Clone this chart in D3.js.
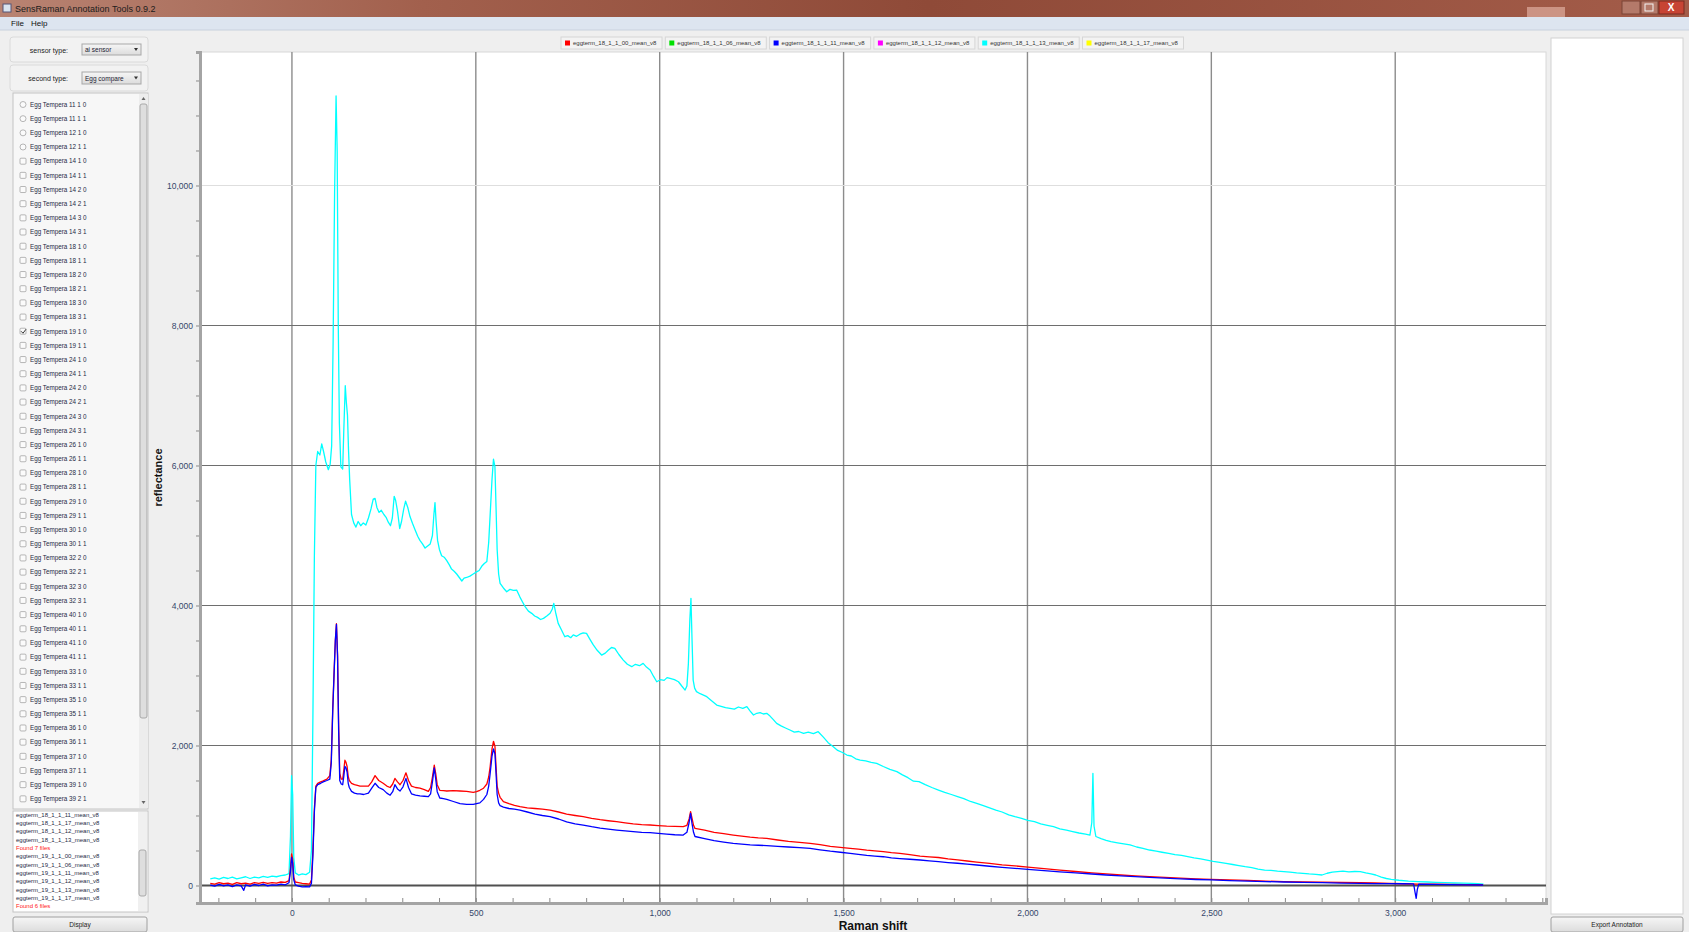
<!DOCTYPE html>
<html>
<head>
<meta charset="utf-8">
<script src="https://cdn.jsdelivr.net/npm/d3@7"></script>
<style>
  body { margin: 0; background: #efefef; overflow: hidden; }
  svg { display: block; font-family: "Liberation Sans", Arial, sans-serif; }
</style>
</head>
<body>
<svg id="app"></svg>
<script>
// ---- data ----
const seriesNames = ["eggterm_18_1_1_00_mean_v8", "eggterm_18_1_1_06_mean_v8", "eggterm_18_1_1_11_mean_v8",
  "eggterm_18_1_1_12_mean_v8", "eggterm_18_1_1_13_mean_v8", "eggterm_18_1_1_17_mean_v8"];
const seriesColors = ["#ff0000", "#00e000", "#0000ff", "#ff00ff", "#00ffff", "#ffff00"];

const xMajorTicks = [0, 500, 1000, 1500, 2000, 2500, 3000];
const yMajorTicks = [0, 2000, 4000, 6000, 8000, 10000];

// [raman shift, reflectance]
const cyanSpectrum = [[-222,95],[-210,110],[-198,90],[-186,115],[-174,100],[-162,120],[-150,95],[-138,110],[-126,125],[-114,100],[-102,120],[-90,110],[-78,130],[-66,115],[-54,135],[-42,125],[-30,140],[-18,150],[-8,170],[-4,700],[-1,1570],[2,1300],[5,400],[9,180],[18,150],[28,165],[38,155],[48,190],[53,500],[57,2400],[61,4700],[65,6000],[70,6200],[76,6150],[81,6310],[86,6200],[92,6050],[99,5940],[104,6020],[108,6280],[112,7770],[116,9900],[120,11280],[123,10500],[126,8000],[129,6600],[133,5980],[138,5950],[141,6500],[145,7140],[148,6900],[151,6720],[154,6200],[157,5800],[162,5300],[168,5180],[174,5120],[180,5200],[187,5140],[194,5180],[201,5150],[208,5250],[215,5380],[221,5520],[226,5530],[231,5400],[237,5330],[243,5360],[250,5300],[256,5260],[262,5190],[268,5140],[273,5250],[278,5560],[282,5500],[287,5350],[293,5100],[298,5200],[304,5380],[309,5490],[315,5400],[321,5270],[328,5170],[335,5080],[342,4990],[348,4930],[355,4880],[362,4820],[369,4850],[376,4880],[382,5000],[386,5300],[389,5470],[392,5200],[396,4930],[401,4800],[407,4710],[414,4690],[421,4640],[428,4580],[434,4520],[441,4490],[448,4450],[455,4400],[462,4350],[468,4390],[475,4400],[484,4420],[493,4450],[502,4480],[509,4500],[516,4560],[523,4600],[530,4630],[535,4900],[539,5300],[544,5800],[548,6090],[552,5980],[555,5400],[558,4800],[562,4450],[566,4316],[575,4250],[584,4197],[593,4230],[602,4215],[611,4221],[620,4120],[627,4050],[634,3983],[643,3920],[652,3888],[660,3850],[668,3830],[676,3800],[684,3816],[693,3850],[702,3890],[708,3950],[712,4031],[717,3900],[724,3745],[733,3650],[742,3554],[750,3570],[758,3540],[765,3580],[774,3560],[783,3590],[792,3610],[801,3602],[810,3520],[819,3440],[830,3360],[842,3292],[852,3320],[860,3360],[869,3400],[878,3388],[889,3300],[901,3220],[912,3160],[924,3126],[934,3160],[945,3140],[955,3173],[964,3120],[974,3078],[983,2990],[992,2911],[1002,2940],[1012,2930],[1020,2970],[1028,2959],[1040,2940],[1051,2911],[1060,2850],[1069,2792],[1074,2850],[1078,3170],[1082,3800],[1085,4102],[1088,3500],[1091,2935],[1095,2820],[1100,2769],[1110,2740],[1119,2720],[1128,2697],[1141,2640],[1155,2578],[1167,2560],[1179,2540],[1191,2530],[1203,2520],[1214,2550],[1226,2530],[1237,2554],[1246,2490],[1255,2435],[1264,2460],[1273,2470],[1282,2450],[1291,2459],[1300,2420],[1309,2370],[1318,2316],[1330,2280],[1342,2250],[1354,2221],[1366,2190],[1378,2200],[1391,2173],[1404,2190],[1418,2170],[1431,2197],[1445,2120],[1458,2040],[1472,1983],[1484,1930],[1497,1900],[1509,1864],[1521,1850],[1533,1810],[1545,1792],[1560,1780],[1575,1760],[1590,1745],[1608,1700],[1626,1660],[1645,1626],[1660,1580],[1675,1540],[1690,1490],[1705,1483],[1722,1440],[1740,1400],[1758,1364],[1775,1330],[1793,1300],[1810,1269],[1827,1240],[1845,1200],[1862,1174],[1880,1140],[1897,1110],[1914,1078],[1931,1050],[1949,1010],[1966,983],[1984,960],[2001,930],[2019,912],[2036,880],[2054,860],[2071,840],[2088,810],[2106,790],[2123,769],[2140,750],[2158,735],[2170,721],[2175,900],[2178,1602],[2181,850],[2186,700],[2200,670],[2214,645],[2227,626],[2245,610],[2262,595],[2279,579],[2297,550],[2314,530],[2332,507],[2350,490],[2366,475],[2384,460],[2401,440],[2419,430],[2436,412],[2453,395],[2471,380],[2488,364],[2505,345],[2523,330],[2540,317],[2558,300],[2575,285],[2592,269],[2610,255],[2627,235],[2645,221],[2662,215],[2680,205],[2697,198],[2714,190],[2732,180],[2749,174],[2766,165],[2784,160],[2801,150],[2815,175],[2829,190],[2843,198],[2858,205],[2874,195],[2890,200],[2905,198],[2920,180],[2934,165],[2947,150],[2962,120],[2976,100],[2989,88],[3010,75],[3036,62],[3062,55],[3088,50],[3111,45],[3135,40],[3160,36],[3185,33],[3208,31],[3225,25],[3240,21]];

const redSpectrum = [[-222,30],[-210,20],[-198,40],[-186,25],[-174,35],[-162,15],[-150,40],[-138,25],[-126,35],[-114,20],[-102,40],[-90,30],[-78,45],[-66,30],[-54,40],[-42,35],[-30,50],[-18,45],[-8,70],[-4,250],[-1,450],[2,380],[5,120],[9,50],[18,40],[28,30],[38,25],[48,20],[53,80],[57,500],[61,1100],[65,1420],[70,1460],[78,1480],[85,1495],[95,1520],[103,1570],[107,1800],[111,2540],[115,3100],[118,3500],[121,3740],[124,3300],[127,2300],[130,1600],[134,1520],[138,1520],[141,1650],[144,1790],[147,1760],[150,1700],[153,1560],[156,1500],[162,1460],[170,1440],[178,1430],[185,1420],[195,1420],[208,1420],[217,1480],[226,1570],[236,1500],[248,1460],[258,1420],[267,1400],[274,1450],[280,1530],[287,1480],[294,1440],[302,1500],[310,1610],[317,1500],[325,1420],[336,1400],[348,1390],[360,1370],[371,1345],[377,1400],[382,1550],[387,1720],[391,1600],[395,1440],[402,1360],[412,1355],[421,1350],[439,1355],[457,1350],[475,1345],[493,1330],[502,1340],[511,1360],[521,1390],[530,1450],[535,1550],[539,1700],[544,1950],[548,2060],[552,1990],[555,1700],[558,1420],[562,1320],[566,1260],[575,1197],[590,1170],[605,1145],[620,1126],[640,1110],[661,1100],[681,1090],[702,1078],[725,1050],[747,1020],[770,1000],[792,983],[815,960],[838,940],[860,925],[883,911],[906,895],[928,880],[951,870],[974,864],[996,855],[1019,848],[1041,845],[1064,840],[1074,860],[1080,950],[1084,1054],[1088,960],[1092,860],[1096,816],[1122,790],[1148,760],[1174,740],[1200,721],[1223,705],[1246,690],[1268,680],[1291,674],[1321,650],[1350,630],[1380,615],[1409,602],[1436,585],[1464,560],[1491,545],[1518,530],[1540,520],[1563,505],[1585,495],[1608,483],[1630,470],[1653,460],[1680,440],[1708,420],[1733,410],[1758,400],[1784,380],[1810,365],[1836,350],[1862,335],[1897,315],[1931,295],[1966,280],[2001,262],[2045,240],[2088,220],[2131,200],[2175,180],[2214,165],[2254,150],[2293,138],[2332,126],[2374,115],[2416,105],[2458,95],[2500,88],[2549,80],[2599,72],[2648,63],[2697,55],[2749,52],[2801,48],[2853,44],[2905,40],[2944,36],[2984,30],[3023,25],[3062,21],[3106,18],[3150,15],[3195,13],[3239,12]];

const blueSpectrum = [[-222,5],[-210,-10],[-198,15],[-186,-5],[-174,10],[-162,-15],[-150,10],[-138,-5],[-131,-70],[-126,10],[-114,-10],[-102,15],[-90,0],[-78,20],[-66,-5],[-54,10],[-42,5],[-30,20],[-18,10],[-8,40],[-4,200],[-1,400],[2,320],[5,80],[9,10],[18,-10],[28,-20],[38,-15],[48,-20],[53,30],[57,420],[61,1050],[65,1400],[70,1440],[78,1460],[85,1480],[95,1500],[103,1520],[107,1750],[111,2500],[115,3080],[118,3500],[121,3730],[124,3280],[127,2200],[130,1500],[134,1450],[138,1440],[141,1560],[144,1700],[147,1680],[150,1620],[153,1460],[156,1400],[162,1345],[170,1320],[178,1310],[185,1310],[195,1300],[208,1320],[217,1390],[226,1460],[236,1400],[248,1370],[258,1320],[267,1290],[274,1340],[280,1440],[287,1380],[294,1350],[302,1410],[310,1530],[317,1400],[325,1310],[336,1290],[348,1280],[360,1275],[371,1270],[377,1310],[382,1480],[387,1680],[391,1520],[395,1340],[402,1250],[412,1240],[421,1230],[439,1200],[457,1170],[475,1160],[493,1160],[502,1170],[511,1180],[521,1230],[530,1300],[535,1420],[539,1600],[544,1850],[548,1950],[552,1880],[555,1600],[558,1300],[562,1180],[566,1140],[575,1120],[590,1100],[605,1090],[620,1078],[640,1050],[661,1020],[681,1000],[702,983],[725,950],[747,910],[770,880],[792,864],[815,840],[838,820],[860,805],[883,792],[906,780],[928,770],[951,760],[974,754],[996,745],[1019,735],[1041,725],[1064,721],[1074,760],[1080,900],[1084,1030],[1088,880],[1092,760],[1096,700],[1122,670],[1148,640],[1174,620],[1200,602],[1223,590],[1246,580],[1268,575],[1291,570],[1321,560],[1350,550],[1380,540],[1409,530],[1436,510],[1464,490],[1491,475],[1518,460],[1540,445],[1563,430],[1585,420],[1608,411],[1630,395],[1653,385],[1680,375],[1708,364],[1733,352],[1758,340],[1784,328],[1810,318],[1836,305],[1862,293],[1897,275],[1931,260],[1966,245],[2001,231],[2045,212],[2088,195],[2131,180],[2175,164],[2214,150],[2254,138],[2293,127],[2332,117],[2374,105],[2416,95],[2458,86],[2500,79],[2549,70],[2599,63],[2648,56],[2697,50],[2749,45],[2801,40],[2853,35],[2905,31],[2944,28],[2984,26],[3023,25],[3050,24],[3054,-100],[3057,-183],[3060,-60],[3064,20],[3106,15],[3150,12],[3195,9],[3239,7]];

const listItems = ["Egg Tempera 11 1 0","Egg Tempera 11 1 1","Egg Tempera 12 1 0","Egg Tempera 12 1 1","Egg Tempera 14 1 0","Egg Tempera 14 1 1","Egg Tempera 14 2 0","Egg Tempera 14 2 1","Egg Tempera 14 3 0","Egg Tempera 14 3 1","Egg Tempera 18 1 0","Egg Tempera 18 1 1","Egg Tempera 18 2 0","Egg Tempera 18 2 1","Egg Tempera 18 3 0","Egg Tempera 18 3 1","Egg Tempera 19 1 0","Egg Tempera 19 1 1","Egg Tempera 24 1 0","Egg Tempera 24 1 1","Egg Tempera 24 2 0","Egg Tempera 24 2 1","Egg Tempera 24 3 0","Egg Tempera 24 3 1","Egg Tempera 26 1 0","Egg Tempera 26 1 1","Egg Tempera 28 1 0","Egg Tempera 28 1 1","Egg Tempera 29 1 0","Egg Tempera 29 1 1","Egg Tempera 30 1 0","Egg Tempera 30 1 1","Egg Tempera 32 2 0","Egg Tempera 32 2 1","Egg Tempera 32 3 0","Egg Tempera 32 3 1","Egg Tempera 40 1 0","Egg Tempera 40 1 1","Egg Tempera 41 1 0","Egg Tempera 41 1 1","Egg Tempera 33 1 0","Egg Tempera 33 1 1","Egg Tempera 35 1 0","Egg Tempera 35 1 1","Egg Tempera 36 1 0","Egg Tempera 36 1 1","Egg Tempera 37 1 0","Egg Tempera 37 1 1","Egg Tempera 39 1 0","Egg Tempera 39 2 1"];
const checkedItem = 16;

const logLines = ["eggterm_18_1_1_11_mean_v8","eggterm_18_1_1_17_mean_v8","eggterm_18_1_1_12_mean_v8","eggterm_18_1_1_13_mean_v8","Found 7 files",
  "eggterm_19_1_1_00_mean_v8","eggterm_19_1_1_06_mean_v8","eggterm_19_1_1_11_mean_v8","eggterm_19_1_1_12_mean_v8","eggterm_19_1_1_13_mean_v8","eggterm_19_1_1_17_mean_v8","Found 6 files"];

// ---- layout ----
const W = 1689, H = 932;
const plot = { left: 200, right: 1546, top: 52, bottom: 903 };

const svg = d3.select("#app").attr("width", W).attr("height", H);
const defs = svg.append("defs");

const tg = defs.append("linearGradient").attr("id", "titleGrad");
tg.append("stop").attr("offset", "0%").attr("stop-color", "#b88372");
tg.append("stop").attr("offset", "25%").attr("stop-color", "#a2604d");
tg.append("stop").attr("offset", "55%").attr("stop-color", "#8f4a38");
tg.append("stop").attr("offset", "100%").attr("stop-color", "#a35c49");

const bg = defs.append("linearGradient").attr("id", "btnGrad").attr("x2", 0).attr("y2", 1);
bg.append("stop").attr("offset", "0%").attr("stop-color", "#f6f6f6");
bg.append("stop").attr("offset", "100%").attr("stop-color", "#dcdcdc");

defs.append("clipPath").attr("id", "plotClip").append("rect")
  .attr("x", plot.left).attr("y", plot.top)
  .attr("width", plot.right - plot.left).attr("height", plot.bottom - plot.top);

svg.append("rect").attr("width", W).attr("height", H).attr("fill", "#efefef");

// title bar + menu
svg.append("rect").attr("width", W).attr("height", 17).attr("fill", "url(#titleGrad)");
svg.append("rect").attr("x", 3).attr("y", 4).attr("width", 8).attr("height", 8).attr("fill", "#d9e4ef").attr("stroke", "#557");
svg.append("text").attr("x", 15).attr("y", 12).attr("font-size", 9).attr("fill", "#1c1c1c")
  .text("SensRaman Annotation Tools 0.9.2");
svg.append("rect").attr("x", 1527).attr("y", 7).attr("width", 38).attr("height", 10).attr("fill", "#d7a393").attr("opacity", 0.8);
svg.append("rect").attr("x", 1622).attr("y", 1).attr("width", 18).attr("height", 13).attr("fill", "#b47a6a").attr("stroke", "#7a4436");
svg.append("rect").attr("x", 1641).attr("y", 1).attr("width", 17).attr("height", 13).attr("fill", "#b47a6a").attr("stroke", "#7a4436");
svg.append("rect").attr("x", 1645).attr("y", 4).attr("width", 8).attr("height", 7).attr("fill", "none").attr("stroke", "#f4f4f4");
svg.append("rect").attr("x", 1659).attr("y", 1).attr("width", 25).attr("height", 13).attr("fill", "#c74434").attr("stroke", "#7a2a20");
svg.append("text").attr("x", 1671).attr("y", 11).attr("text-anchor", "middle").attr("font-size", 10)
  .attr("font-weight", "bold").attr("fill", "#fff").text("X");

svg.append("rect").attr("y", 17).attr("width", W).attr("height", 13).attr("fill", "#dde5f0");
svg.append("line").attr("x1", 0).attr("x2", W).attr("y1", 30).attr("y2", 30).attr("stroke", "#c8d1de");
svg.append("text").attr("x", 11).attr("y", 26).attr("font-size", 8).attr("fill", "#111").text("File");
svg.append("text").attr("x", 31).attr("y", 26).attr("font-size", 8).attr("fill", "#111").text("Help");

// ---- left panel ----
const left = svg.append("g").attr("class", "left-panel");

function dropdown(g, y, h, label, value) {
  g.append("rect").attr("x", 10).attr("y", y - 7).attr("width", 138).attr("height", h + 14)
    .attr("rx", 3).attr("fill", "#f2f2f2").attr("stroke", "#dadada");
  g.append("text").attr("x", 68).attr("y", y + h / 2 + 3).attr("text-anchor", "end")
    .attr("font-size", 7).attr("fill", "#222").text(label);
  g.append("rect").attr("x", 82).attr("y", y).attr("width", 59).attr("height", h)
    .attr("fill", "url(#btnGrad)").attr("stroke", "#a8a8a8");
  g.append("text").attr("x", 85).attr("y", y + h / 2 + 2.5).attr("font-size", 6.5).attr("fill", "#223").text(value);
  g.append("path").attr("d", `M${134},${y + h / 2 - 1.5}l4,0l-2,3z`).attr("fill", "#333");
}
dropdown(left, 44, 11, "sensor type:", "ai sensor");
dropdown(left, 72, 12, "second type:", "Egg compare");

// list of samples
left.append("rect").attr("x", 13).attr("y", 93).attr("width", 135).attr("height", 716)
  .attr("fill", "#f7f7f7").attr("stroke", "#c4c4c4");
left.append("rect").attr("x", 139).attr("y", 94).attr("width", 9).attr("height", 714).attr("fill", "#ededed");
left.append("rect").attr("x", 140).attr("y", 104).attr("width", 7).attr("height", 614)
  .attr("rx", 2).attr("fill", "#dedede").attr("stroke", "#a9a9a9");
left.append("path").attr("d", "M141.5,100l2,-3l2,3z").attr("fill", "#666");
left.append("path").attr("d", "M141.5,801l2,3l2,-3z").attr("fill", "#666");

const items = left.selectAll("g.item").data(listItems).join("g").attr("class", "item")
  .attr("transform", (d, i) => `translate(0,${104.5 + i * 14.17})`);
items.append("rect").attr("x", 20).attr("y", -3).attr("width", 6).attr("height", 6)
  .attr("rx", (d, i) => i < 4 ? 3 : 1).attr("fill", "#fbfbfb").attr("stroke", "#9a9a9a").attr("stroke-width", 0.7);
items.filter((d, i) => i === checkedItem).append("path")
  .attr("d", "M21,0l2,2l3,-4").attr("fill", "none").attr("stroke", "#333").attr("stroke-width", 1);
items.append("text").attr("x", 30).attr("y", 2.3).attr("font-size", 6.3).attr("fill", "#1e2a44").text(d => d);

// log text area
left.append("rect").attr("x", 13).attr("y", 811).attr("width", 135).attr("height", 101)
  .attr("fill", "#ffffff").attr("stroke", "#c4c4c4");
left.append("rect").attr("x", 138).attr("y", 812).attr("width", 9).attr("height", 99).attr("fill", "#f0f0f0");
left.append("rect").attr("x", 139).attr("y", 850).attr("width", 7).attr("height", 46)
  .attr("rx", 2).attr("fill", "#dedede").attr("stroke", "#a9a9a9");
left.selectAll("text.log").data(logLines).join("text").attr("class", "log")
  .attr("x", 16).attr("y", (d, i) => 816.5 + i * 8.35).attr("font-size", 6)
  .attr("fill", d => d.startsWith("Found") ? "#ff2020" : "#1e2a44").text(d => d);

function button(x, y, w, label) {
  svg.append("rect").attr("x", x).attr("y", y).attr("width", w).attr("height", 15)
    .attr("rx", 2).attr("fill", "url(#btnGrad)").attr("stroke", "#a0a0a0");
  svg.append("text").attr("x", x + w / 2).attr("y", y + 10).attr("text-anchor", "middle")
    .attr("font-size", 6.5).attr("fill", "#222").text(label);
}
button(13, 917, 134, "Display");

// right panel
svg.append("rect").attr("x", 1551).attr("y", 38).attr("width", 132).attr("height", 876)
  .attr("fill", "#ffffff").attr("stroke", "#d2d2d2");
button(1551, 917, 132, "Export Annotation");

// ---- chart ----
const x = d3.scaleLinear().domain([-250, 3410]).range([plot.left, plot.right]);
const y = d3.scaleLinear().domain([-250, 11907]).range([plot.bottom, plot.top]);

const chart = svg.append("g").attr("class", "chart");
chart.append("rect").attr("x", plot.left).attr("y", plot.top)
  .attr("width", plot.right - plot.left).attr("height", plot.bottom - plot.top)
  .attr("fill", "#ffffff").attr("stroke", "#d8d8d8");

// grid
chart.selectAll("line.vgrid").data(xMajorTicks).join("line").attr("class", "vgrid")
  .attr("x1", d => x(d)).attr("x2", d => x(d)).attr("y1", plot.top).attr("y2", plot.bottom)
  .attr("stroke", "#8c8c8c").attr("stroke-width", 1.4);
chart.selectAll("line.hgrid").data(yMajorTicks).join("line").attr("class", "hgrid")
  .attr("x1", plot.left).attr("x2", plot.right).attr("y1", d => y(d)).attr("y2", d => y(d))
  .attr("stroke", d => d === 0 ? "#505050" : d === 10000 ? "#dedede" : "#6e6e6e")
  .attr("stroke-width", d => d === 0 ? 2 : 1.2);

// spectra
const line = d3.line().x(d => x(d[0])).y(d => y(d[1]));
const drawn = [
  { data: cyanSpectrum, color: seriesColors[4] },
  { data: redSpectrum, color: seriesColors[0] },
  { data: blueSpectrum, color: seriesColors[2] }
];
chart.append("g").attr("clip-path", "url(#plotClip)")
  .selectAll("path").data(drawn).join("path")
  .attr("d", d => line(d.data)).attr("fill", "none")
  .attr("stroke", d => d.color).attr("stroke-width", 1.3).attr("stroke-linejoin", "round");

// y axis
const yAxisG = chart.append("g").attr("transform", `translate(${plot.left},0)`);
yAxisG.call(d3.axisLeft(y).tickValues(d3.range(0, 11501, 500)).tickSize(4).tickFormat(""));
yAxisG.append("g").call(d3.axisLeft(y).tickValues(yMajorTicks).tickSize(0).tickPadding(7).tickFormat(d3.format(",")));
yAxisG.selectAll(".domain").attr("stroke", "#a4a4a4").attr("stroke-width", 3);
yAxisG.selectAll(".tick line").attr("stroke", "#8a8a8a");
yAxisG.selectAll("text").attr("font-size", 8.5).attr("fill", "#34466a").attr("font-family", "Liberation Sans, Arial, sans-serif");

// x axis
const xAxisG = chart.append("g").attr("transform", `translate(0,${plot.bottom})`);
xAxisG.call(d3.axisTop(x).tickValues(d3.range(-200, 3401, 100)).tickSize(5).tickFormat(""));
xAxisG.append("g").call(d3.axisBottom(x).tickValues(xMajorTicks).tickSize(0).tickPadding(7).tickFormat(d3.format(",")));
xAxisG.selectAll(".domain").attr("stroke", "#a4a4a4").attr("stroke-width", 3);
xAxisG.selectAll(".tick line").attr("stroke", "#8a8a8a");
xAxisG.selectAll("text").attr("font-size", 8.5).attr("fill", "#34466a").attr("font-family", "Liberation Sans, Arial, sans-serif");

chart.append("text").attr("x", (plot.left + plot.right) / 2).attr("y", 930)
  .attr("text-anchor", "middle").attr("font-size", 12).attr("font-weight", "bold").attr("fill", "#111")
  .text("Raman shift");
chart.append("text").attr("transform", `translate(162,${(plot.top + plot.bottom) / 2}) rotate(-90)`)
  .attr("text-anchor", "middle").attr("font-size", 11).attr("font-weight", "bold").attr("fill", "#111")
  .text("reflectance");

// legend
const legend = svg.append("g").attr("class", "legend");
const li = legend.selectAll("g").data(seriesNames).join("g")
  .attr("transform", (d, i) => `translate(${561 + i * 104.3},37)`);
li.append("rect").attr("width", 101).attr("height", 12).attr("fill", "#f3f3f3").attr("stroke", "#d6d6d6");
li.append("rect").attr("x", 4).attr("y", 3.5).attr("width", 5).attr("height", 5)
  .attr("fill", (d, i) => seriesColors[i]);
li.append("text").attr("x", 12).attr("y", 8.3).attr("font-size", 6).attr("fill", "#333").text(d => d);
</script>
</body>
</html>
